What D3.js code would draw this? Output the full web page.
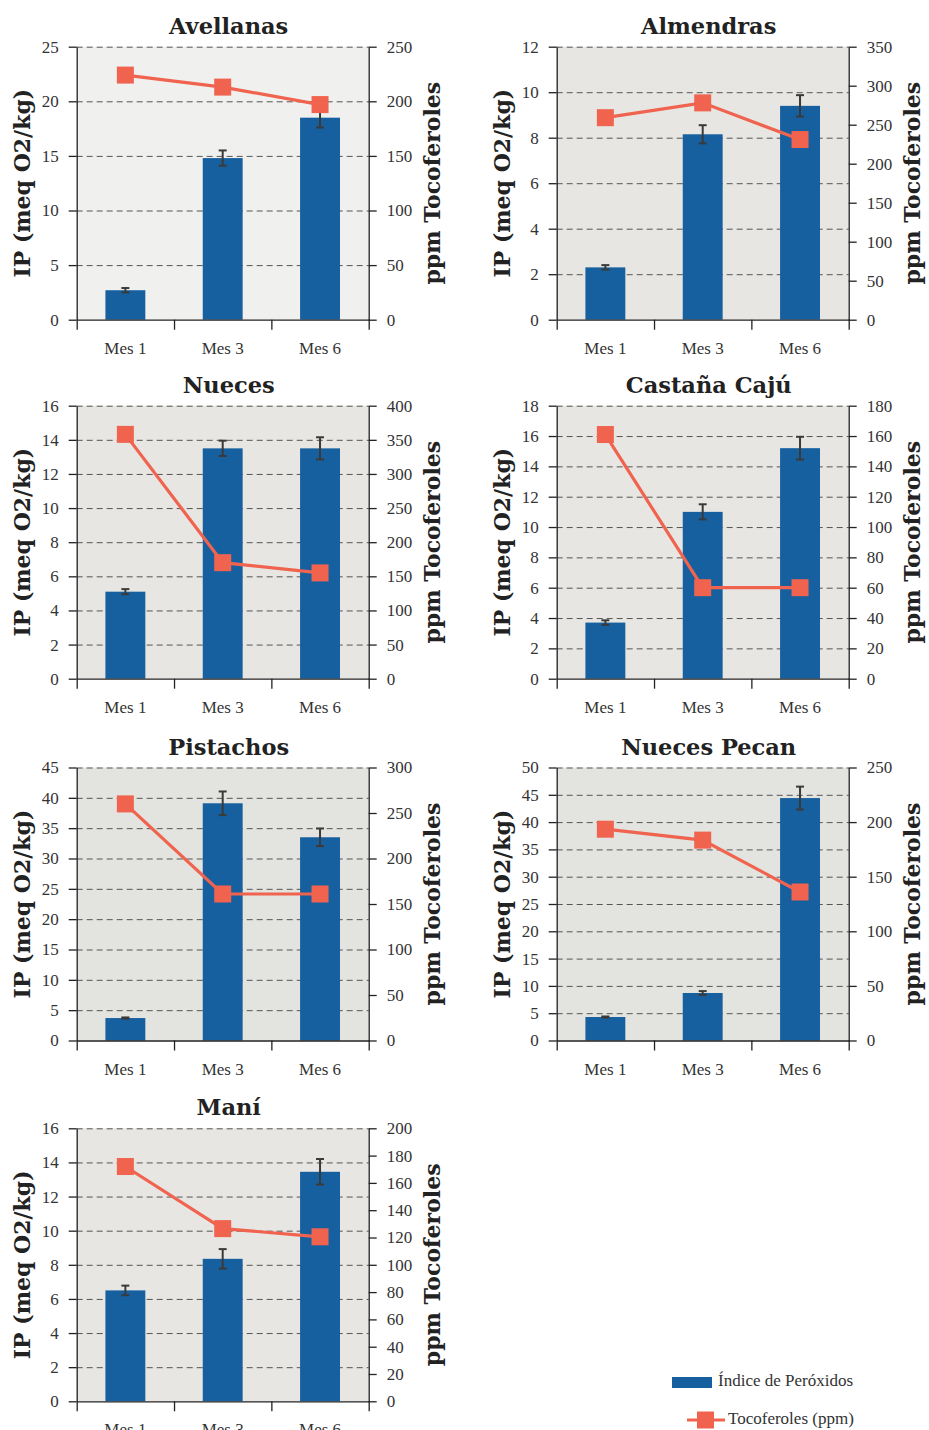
<!DOCTYPE html>
<html>
<head>
<meta charset="utf-8">
<script src="https://cdn.jsdelivr.net/npm/d3@7"></script>
<style>
  body { margin: 0; background: #ffffff; }
  .tick text { font-family: "Liberation Serif", serif; font-size: 17px; fill: #333; }
</style>
</head>
<body>
<div class="chart"></div>
<script>
// Data
const nuts = ["Avellanas", "Almendras", "Nueces", "Castaña Cajú", "Pistachos", "Nueces Pecan", "Maní"];
const months = ["Mes 1", "Mes 3", "Mes 6"];

// Índice de Peróxidos (meq O2/kg) and its error
const ipValues = [
    [2.7, 14.8, 18.5],
    [2.3, 8.15, 9.4],
    [5.1, 13.5, 13.5],
    [3.7, 11.0, 15.2],
    [3.7, 39.1, 33.5],
    [4.3, 8.7, 44.4],
    [6.5, 8.35, 13.45]
];
const ipErrors = [
    [0.2, 0.7, 0.9],
    [0.1, 0.4, 0.47],
    [0.15, 0.45, 0.65],
    [0.15, 0.5, 0.75],
    [0.1, 1.95, 1.45],
    [0.1, 0.35, 2.1],
    [0.28, 0.57, 0.75]
];
// Tocoferoles (ppm)
const tocoValues = [
    [224, 213, 197],
    [259, 278, 231],
    [358, 170, 155],
    [161, 60, 60],
    [260, 161, 161],
    [193.5, 183.5, 136],
    [172, 126.5, 120.5]
];

// axis ranges / tick steps
const ipMax = [25, 12, 16, 18, 45, 50, 16];
const ipStep = [5, 2, 2, 2, 5, 5, 2];
const tocoMax = [250, 350, 400, 180, 300, 250, 200];
const tocoStep = [50, 50, 50, 20, 50, 50, 20];

// layout
const svgWidth = 929;
const svgHeight = 1430;
const colLeft = [76.7, 556.7];
const rowTop = [46.7, 405.7, 767.5, 1128.3];
const plotW = 292;
const plotH = 273;

const barColor = "#17609f";
const lineColor = "#f0634f";
const bgColors = ["#f0f0ee", "#e7e6e2", "#e7e6e2", "#e7e6e2", "#e3e3df", "#e3e3df", "#e7e6e2"];

let svg = d3.select(".chart")
    .append("svg")
    .attr("width", svgWidth)
    .attr("height", svgHeight);

nuts.forEach(function (name, i) {
    const left = colLeft[i % 2];
    const top = rowTop[Math.floor(i / 2)];
    const right = left + plotW;
    const bottom = top + plotH;

    const x = d3.scaleBand().domain(months).range([left, right]);
    const xEdges = d3.scaleLinear().domain([0, 3]).range([left, right]);
    const yL = d3.scaleLinear().domain([0, ipMax[i]]).range([bottom, top]);
    const yR = d3.scaleLinear().domain([0, tocoMax[i]]).range([bottom, top]);

    const g = svg.append("g");

    // background
    g.append("rect")
        .attr("x", left).attr("y", top)
        .attr("width", plotW).attr("height", plotH)
        .attr("fill", bgColors[i]);

    // dashed grid on left ticks
    const leftTicks = d3.range(0, ipMax[i] + ipStep[i] / 2, ipStep[i]);
    g.append("g")
        .attr("transform", `translate(${left},0)`)
        .call(d3.axisLeft(yL).tickValues(leftTicks.slice(1)).tickSize(-plotW).tickFormat(""))
        .call(s => s.select(".domain").remove())
        .call(s => s.selectAll("line")
            .attr("stroke", "#555")
            .attr("stroke-dasharray", "6,4"));

    // bars
    const bw = x.bandwidth() * 0.41;
    g.selectAll(".bar")
        .data(ipValues[i])
        .enter()
        .append("rect")
        .attr("x", (d, k) => x(months[k]) + x.bandwidth() / 2 - bw / 2)
        .attr("y", d => yL(d))
        .attr("width", bw)
        .attr("height", d => yL(0) - yL(d))
        .attr("fill", barColor);

    // error bars
    const eb = g.selectAll(".err")
        .data(ipValues[i])
        .enter()
        .append("g")
        .attr("stroke", "#3a3a3a")
        .attr("stroke-width", 2);
    eb.append("line")
        .attr("x1", (d, k) => x(months[k]) + x.bandwidth() / 2)
        .attr("x2", (d, k) => x(months[k]) + x.bandwidth() / 2)
        .attr("y1", (d, k) => yL(d - ipErrors[i][k]))
        .attr("y2", (d, k) => yL(d + ipErrors[i][k]));
    [-1, 1].forEach(function (sgn) {
        eb.append("line")
            .attr("x1", (d, k) => x(months[k]) + x.bandwidth() / 2 - 4)
            .attr("x2", (d, k) => x(months[k]) + x.bandwidth() / 2 + 4)
            .attr("y1", (d, k) => yL(d + sgn * ipErrors[i][k]))
            .attr("y2", (d, k) => yL(d + sgn * ipErrors[i][k]));
    });

    // axes
    g.append("g")
        .attr("transform", `translate(${left},0)`)
        .call(d3.axisLeft(yL).tickValues(leftTicks).tickSize(8).tickSizeOuter(0).tickPadding(10))
        .call(s => s.selectAll("line, path").attr("stroke", "#222").attr("stroke-width", 1.3));

    const rightTicks = d3.range(0, tocoMax[i] + tocoStep[i] / 2, tocoStep[i]);
    g.append("g")
        .attr("transform", `translate(${right},0)`)
        .call(d3.axisRight(yR).tickValues(rightTicks).tickSize(8).tickSizeOuter(0).tickPadding(10))
        .call(s => s.selectAll("line, path").attr("stroke", "#222").attr("stroke-width", 1.3));

    g.append("g")
        .attr("transform", `translate(0,${bottom})`)
        .call(d3.axisBottom(xEdges).ticks(3).tickSize(10).tickSizeOuter(0).tickFormat(""))
        .call(s => s.selectAll("line, path").attr("stroke", "#222").attr("stroke-width", 1.3));

    g.append("g")
        .attr("transform", `translate(0,${bottom})`)
        .call(d3.axisBottom(x).tickSize(0).tickPadding(22))
        .call(s => s.select(".domain").remove());

    // tocoferoles line + markers
    const line = d3.line()
        .x((d, k) => x(months[k]) + x.bandwidth() / 2)
        .y(d => yR(d));
    g.append("path")
        .datum(tocoValues[i])
        .attr("d", line)
        .attr("fill", "none")
        .attr("stroke", lineColor)
        .attr("stroke-width", 3.2);
    g.selectAll(".mk")
        .data(tocoValues[i])
        .enter()
        .append("rect")
        .attr("x", (d, k) => x(months[k]) + x.bandwidth() / 2 - 8.5)
        .attr("y", d => yR(d) - 8.5)
        .attr("width", 17)
        .attr("height", 17)
        .attr("fill", lineColor);

    // title
    g.append("text")
        .attr("x", left + plotW / 2 + 6)
        .attr("y", top - 13)
        .attr("text-anchor", "middle")
        .attr("font-family", "DejaVu Serif")
        .attr("font-weight", "bold")
        .attr("font-size", "22.5px")
        .attr("fill", "#222")
        .text(name);

    // axis labels
    g.append("text")
        .attr("transform", `translate(${left - 54}, ${(top + bottom) / 2}) rotate(-90)`)
        .attr("dy", "0.35em")
        .attr("text-anchor", "middle")
        .attr("font-family", "DejaVu Serif")
        .attr("font-weight", "bold")
        .attr("font-size", "22px")
        .attr("fill", "#222")
        .text("IP (meq O2/kg)");

    g.append("text")
        .attr("transform", `translate(${right + 64}, ${(top + bottom) / 2}) rotate(-90)`)
        .attr("dy", "0.35em")
        .attr("text-anchor", "middle")
        .attr("font-family", "DejaVu Serif")
        .attr("font-weight", "bold")
        .attr("font-size", "22px")
        .attr("fill", "#222")
        .text("ppm Tocoferoles");
});

// legend
const legend = svg.append("g")
    .attr("font-family", "Liberation Serif")
    .attr("font-size", "17px")
    .attr("fill", "#333");

legend.append("rect")
    .attr("x", 672).attr("y", 1377)
    .attr("width", 40).attr("height", 11)
    .attr("fill", barColor);
legend.append("text")
    .attr("x", 718).attr("y", 1386)
    .text("Índice de Peróxidos");

legend.append("line")
    .attr("x1", 687).attr("x2", 725)
    .attr("y1", 1420).attr("y2", 1420)
    .attr("stroke", lineColor)
    .attr("stroke-width", 3);
legend.append("rect")
    .attr("x", 697).attr("y", 1411.5)
    .attr("width", 17).attr("height", 17)
    .attr("fill", lineColor);
legend.append("text")
    .attr("x", 728).attr("y", 1424)
    .text("Tocoferoles (ppm)");
</script>
</body>
</html>
